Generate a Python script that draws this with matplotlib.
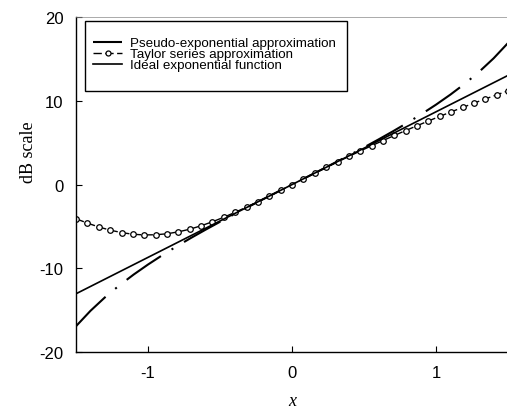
import matplotlib
matplotlib.use("Agg")
import matplotlib.pyplot as plt
from matplotlib.patches import Rectangle

# Ideal exponential function (dB) - straight line
ideal_x = [-1.5, 1.5]
ideal_y = [-13.03, 13.03]

# Pseudo-exponential approximation (dB)
pseudo_x = [-1.5, -1.4, -1.3, -1.2, -1.1, -1.0, -0.9, -0.8, -0.7, -0.6, -0.5, -0.4, -0.3, -0.2, -0.1,
            0.0, 0.1, 0.2, 0.3, 0.4, 0.5, 0.6, 0.7, 0.8, 0.9, 1.0, 1.1, 1.2, 1.3, 1.4, 1.5]
pseudo_y = [-16.90, -15.07, -13.47, -12.04, -10.74, -9.54, -8.42, -7.36, -6.35, -5.38, -4.44, -3.52, -2.63, -1.74, -0.87,
            0.0, 0.87, 1.74, 2.63, 3.52, 4.44, 5.38, 6.35, 7.36, 8.42, 9.54, 10.74, 12.04, 13.47, 15.07, 16.90]

# Taylor series approximation (dB)
taylor_x = [-1.5, -1.421, -1.342, -1.263, -1.184, -1.105, -1.026, -0.947, -0.868, -0.789,
            -0.711, -0.632, -0.553, -0.474, -0.395, -0.316, -0.237, -0.158, -0.079, 0.0,
            0.079, 0.158, 0.237, 0.316, 0.395, 0.474, 0.553, 0.632, 0.711, 0.789,
            0.868, 0.947, 1.026, 1.105, 1.184, 1.263, 1.342, 1.421, 1.5]
taylor_y = [-4.08, -4.60, -5.06, -5.44, -5.73, -5.93, -6.01, -5.99, -5.87, -5.64,
            -5.33, -4.92, -4.44, -3.90, -3.31, -2.69, -2.04, -1.37, -0.69, 0.0,
            0.69, 1.37, 2.04, 2.71, 3.36, 4.01, 4.64, 5.26, 5.86, 6.45,
            7.02, 7.59, 8.14, 8.68, 9.20, 9.72, 10.22, 10.71, 11.19]

xticks = [-1, 0, 1]
yticks = [-20, -10, 0, 10, 20]
labels = ["Pseudo-exponential approximation", "Taylor series approximation", "Ideal exponential function"]

fig = plt.figure(figsize=(5.07, 4.14), dpi=100)
ax = fig.add_axes([0.150, 0.147, 0.852, 0.8095])

l_pseudo, = ax.plot(pseudo_x, pseudo_y, color="black", lw=1.5, dashes=(20, 6, 1, 6))
l_taylor, = ax.plot(taylor_x, taylor_y, color="black", lw=1.0, dashes=(6, 2.5),
                    marker="o", markersize=4.0, markerfacecolor="white", markeredgecolor="black",
                    markeredgewidth=0.9)
l_ideal, = ax.plot(ideal_x, ideal_y, color="black", lw=1.2)

ax.set_xlim(-1.5, 1.5)
ax.set_ylim(-20, 20)
ax.set_xticks(xticks)
ax.set_yticks(yticks)
ax.set_xticklabels([str(v) for v in xticks], family="Liberation Sans", fontsize=12)
ax.set_yticklabels([str(v) for v in yticks], family="Liberation Sans", fontsize=12)
ax.tick_params(direction="in", length=4, width=0.8, pad=9)
ax.spines["right"].set_visible(False)
ax.spines["top"].set_linewidth(0.5)
ax.spines["top"].set_color("#888888")
ax.spines["left"].set_linewidth(1.0)
ax.spines["bottom"].set_linewidth(1.0)

ax.set_ylabel("dB scale", family="Liberation Serif", fontsize=13)
ax.yaxis.set_label_coords(-0.111, 0.60)
ax.yaxis.label.set_verticalalignment("center")
ax.set_xlabel("x", family="Liberation Serif", style="italic", fontsize=13)
ax.xaxis.set_label_coords(0.5, -0.145)
ax.xaxis.label.set_verticalalignment("center")

# legend box (pixel coords, origin bottom-left)
H = fig.get_figheight() * fig.dpi
box = Rectangle((85, H - 92), 262, 70, transform=None, fill=False, lw=1.0, ec="black")
fig.patches.append(box)

leg = ax.legend([l_pseudo, l_taylor, l_ideal], labels, loc="upper left",
                bbox_to_anchor=(93 / 507, 1 - 38 / 414), bbox_transform=fig.transFigure,
                frameon=False, prop={"family": "Liberation Sans", "size": 9.6},
                handlelength=2.2, handletextpad=0.6, labelspacing=-0.1, borderpad=0.0,
                borderaxespad=0.0, markerscale=0.9)

fig.savefig("out.png", dpi=100)
